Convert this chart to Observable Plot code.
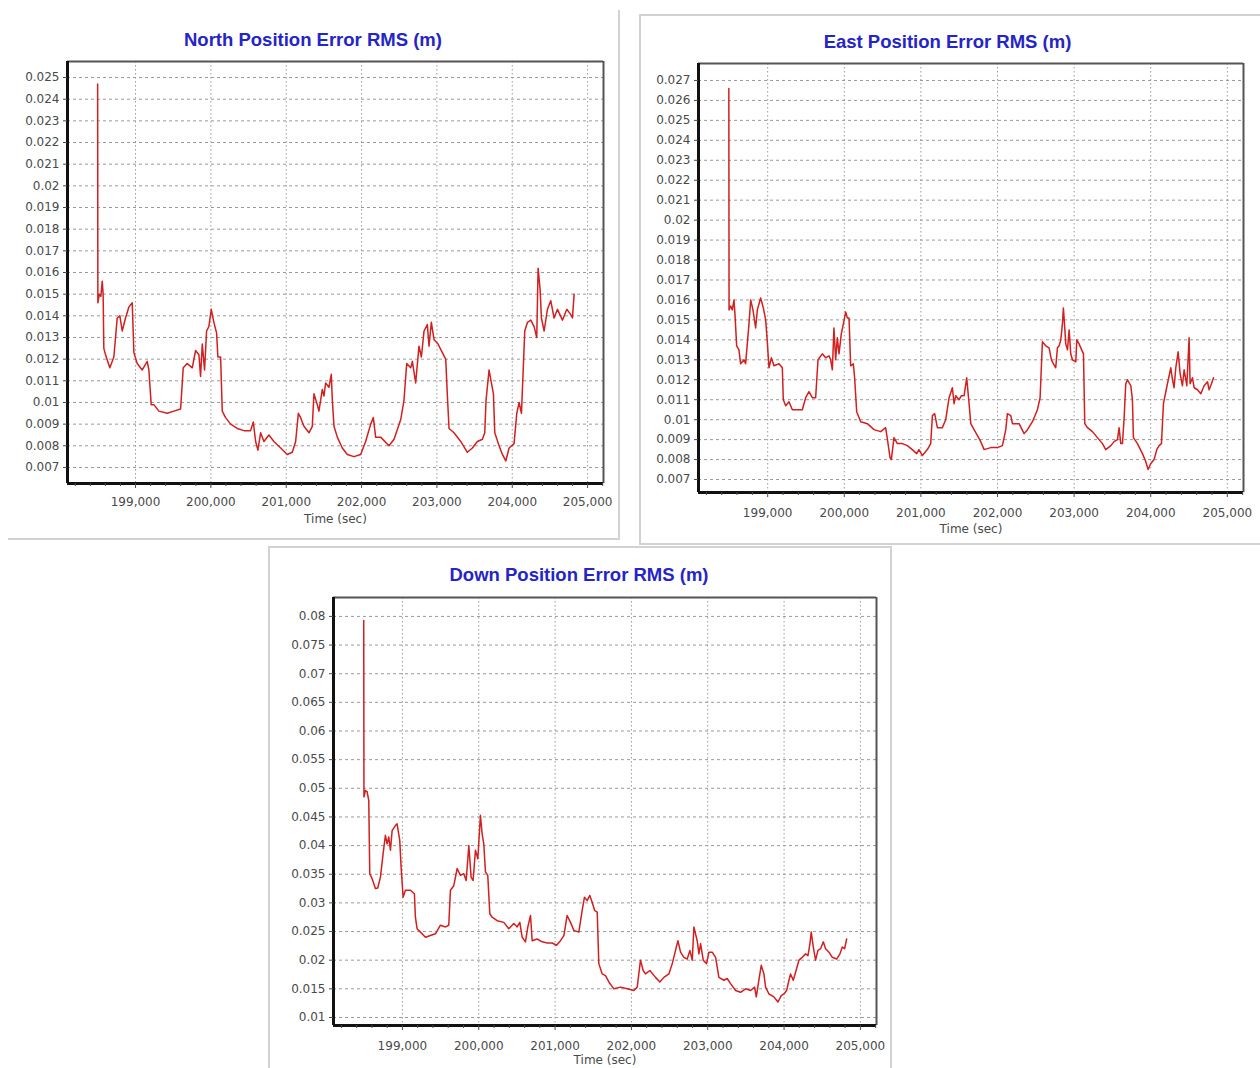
<!DOCTYPE html>
<html>
<head>
<meta charset="utf-8">
<script src="https://cdn.jsdelivr.net/npm/d3@7"></script>
<script src="https://cdn.jsdelivr.net/npm/@observablehq/plot@0.6"></script>
<style>
  html, body { margin: 0; padding: 0; background: #fff; }
  body { width: 1260px; height: 1068px; position: relative; overflow: hidden; font-family: "DejaVu Sans", sans-serif; }
  .box { position: absolute; box-sizing: border-box; border: 0 solid #d2d2d2; }
  .title { position: absolute; text-align: center; font: bold 18.5px "Liberation Sans", Arial, sans-serif; color: #2424c8; line-height: 22px; white-space: nowrap; }
  .chart { position: absolute; }
</style>
</head>
<body>
<script>
// ---- shared axis values ----
const xTicks = [199000, 200000, 201000, 202000, 203000, 204000, 205000];
const xDomain = [198097, 205211];
const xLabel = "Time (sec)";

// ---- titles ----
const northTitle = "North Position Error RMS (m)";
const eastTitle = "East Position Error RMS (m)";
const downTitle = "Down Position Error RMS (m)";

// ---- y ticks ----
const northYTicks = [0.007, 0.008, 0.009, 0.01, 0.011, 0.012, 0.013, 0.014, 0.015, 0.016, 0.017, 0.018, 0.019, 0.02, 0.021, 0.022, 0.023, 0.024, 0.025];
const eastYTicks = [0.007, 0.008, 0.009, 0.01, 0.011, 0.012, 0.013, 0.014, 0.015, 0.016, 0.017, 0.018, 0.019, 0.02, 0.021, 0.022, 0.023, 0.024, 0.025, 0.026, 0.027];
const downYTicks = [0.01, 0.015, 0.02, 0.025, 0.03, 0.035, 0.04, 0.045, 0.05, 0.055, 0.06, 0.065, 0.07, 0.075, 0.08];

// ---- series: [time (sec), RMS (m)] ----
const northSeries = [
  [198497,0.0247],[198500,0.0146],[198520,0.0150],[198540,0.0149],[198558,0.0156],[198570,0.0150],[198579,0.0125],[198602,0.0122],
  [198630,0.0119],[198659,0.0116],[198712,0.0121],[198757,0.0139],[198792,0.0140],[198823,0.0133],[198867,0.0139],[198911,0.0144],
  [198956,0.0146],[198978,0.0123],[199022,0.0118],[199089,0.0115],[199155,0.0119],[199177,0.0115],[199208,0.0099],[199243,0.0099],
  [199310,0.0096],[199421,0.0095],[199509,0.0096],[199598,0.0097],[199633,0.0116],[199686,0.0118],[199753,0.0116],[199797,0.0124],
  [199841,0.0122],[199863,0.0112],[199886,0.0127],[199916,0.0115],[199943,0.0133],[199973,0.0135],[200005,0.0143],[200040,0.0137],
  [200076,0.0132],[200093,0.0121],[200129,0.0121],[200151,0.0096],[200195,0.0093],[200262,0.0090],[200350,0.0088],[200439,0.0087],
  [200527,0.0087],[200563,0.0091],[200594,0.0082],[200624,0.0078],[200660,0.0086],[200704,0.0082],[200770,0.0085],[200837,0.0082],
  [200926,0.0079],[201014,0.0076],[201081,0.0077],[201125,0.0082],[201161,0.0095],[201191,0.0093],[201235,0.0089],[201302,0.0086],
  [201346,0.0089],[201368,0.0104],[201412,0.0099],[201434,0.0096],[201479,0.0106],[201501,0.0103],[201523,0.0109],[201567,0.0107],
  [201598,0.0113],[201612,0.0101],[201634,0.0089],[201678,0.0084],[201744,0.0079],[201811,0.0076],[201899,0.0075],[201988,0.0076],
  [202054,0.0082],[202121,0.0090],[202156,0.0093],[202187,0.0084],[202253,0.0084],[202364,0.0080],[202431,0.0083],[202519,0.0092],
  [202563,0.0101],[202599,0.0118],[202652,0.0116],[202674,0.0119],[202718,0.0109],[202762,0.0126],[202794,0.0121],[202829,0.0133],
  [202873,0.0136],[202895,0.0126],[202926,0.0137],[202962,0.0129],[203015,0.0127],[203072,0.0123],[203117,0.0120],[203139,0.0103],
  [203161,0.0088],[203227,0.0086],[203316,0.0082],[203404,0.0077],[203471,0.0079],[203537,0.0082],[203604,0.0083],[203635,0.0086],
  [203652,0.0101],[203692,0.0115],[203723,0.0109],[203750,0.0104],[203768,0.0086],[203825,0.0080],[203869,0.0076],[203914,0.0073],
  [203958,0.0079],[204024,0.0081],[204060,0.0095],[204091,0.0100],[204122,0.0095],[204166,0.0133],[204202,0.0137],[204246,0.0138],
  [204290,0.0135],[204325,0.0130],[204343,0.0162],[204370,0.0152],[204387,0.0139],[204423,0.0133],[204467,0.0143],[204511,0.0147],
  [204555,0.0139],[204600,0.0143],[204666,0.0138],[204724,0.0143],[204768,0.0141],[204799,0.0139],[204821,0.0150]
];

const eastSeries = [
  [198493,0.0266],[198496,0.0155],[198517,0.0157],[198538,0.0155],[198560,0.0160],[198573,0.0153],[198595,0.0137],[198625,0.0135],
  [198647,0.0128],[198691,0.0130],[198712,0.0128],[198734,0.0138],[198756,0.0148],[198778,0.0160],[198808,0.0155],[198843,0.0146],
  [198865,0.0155],[198908,0.0161],[198943,0.0156],[198974,0.0150],[198995,0.0139],[199017,0.0126],[199048,0.0131],[199082,0.0127],
  [199148,0.0128],[199191,0.0126],[199204,0.0110],[199235,0.0107],[199278,0.0109],[199322,0.0105],[199387,0.0105],[199452,0.0105],
  [199496,0.0111],[199539,0.0114],[199583,0.0111],[199626,0.0111],[199657,0.0130],[199713,0.0133],[199757,0.0131],[199800,0.0132],
  [199822,0.0130],[199844,0.0125],[199865,0.0146],[199887,0.0130],[199909,0.0141],[199931,0.0133],[199961,0.0143],[199988,0.0148],
  [200018,0.0154],[200040,0.0151],[200062,0.0151],[200083,0.0127],[200118,0.0128],[200135,0.0121],[200162,0.0104],[200214,0.0099],
  [200301,0.0098],[200388,0.0095],[200475,0.0094],[200540,0.0096],[200571,0.0088],[200597,0.0081],[200614,0.0080],[200649,0.0091],
  [200692,0.0088],[200758,0.0088],[200823,0.0087],[200888,0.0085],[200945,0.0083],[200975,0.0085],[201019,0.0082],[201084,0.0085],
  [201128,0.0088],[201150,0.0102],[201180,0.0103],[201215,0.0096],[201280,0.0096],[201324,0.0100],[201368,0.0111],[201411,0.0116],
  [201433,0.0108],[201455,0.0112],[201498,0.0110],[201529,0.0112],[201564,0.0112],[201598,0.0121],[201629,0.0108],[201651,0.0098],
  [201694,0.0095],[201738,0.0092],[201781,0.0089],[201825,0.0085],[201912,0.0086],[201999,0.0086],[202064,0.0087],[202108,0.0095],
  [202129,0.0103],[202173,0.0102],[202195,0.0098],[202282,0.0098],[202347,0.0093],[202391,0.0095],[202456,0.0099],[202521,0.0105],
  [202556,0.0111],[202586,0.0139],[202630,0.0137],[202673,0.0136],[202704,0.0130],[202730,0.0128],[202760,0.0126],[202782,0.0136],
  [202804,0.0137],[202826,0.0140],[202847,0.0148],[202860,0.0156],[202878,0.0146],[202891,0.0138],[202913,0.0135],[202935,0.0145],
  [202956,0.0133],[202978,0.0130],[203022,0.0129],[203035,0.0140],[203065,0.0138],[203087,0.0136],[203122,0.0133],[203139,0.0098],
  [203174,0.0096],[203239,0.0094],[203304,0.0091],[203370,0.0088],[203413,0.0085],[203479,0.0087],[203522,0.0089],[203566,0.0090],
  [203587,0.0096],[203609,0.0088],[203631,0.0088],[203653,0.0101],[203674,0.0118],[203696,0.0120],[203740,0.0117],[203761,0.0110],
  [203774,0.0091],[203827,0.0088],[203892,0.0083],[203935,0.0079],[203966,0.0075],[204001,0.0078],[204044,0.0080],[204079,0.0085],
  [204109,0.0087],[204140,0.0088],[204166,0.0108],[204197,0.0114],[204218,0.0118],[204262,0.0126],[204284,0.0120],[204305,0.0116],
  [204327,0.0126],[204358,0.0134],[204384,0.0123],[204414,0.0117],[204436,0.0125],[204471,0.0117],[204501,0.0141],[204514,0.0118],
  [204545,0.0121],[204567,0.0116],[204610,0.0115],[204654,0.0113],[204697,0.0117],[204741,0.0119],[204762,0.0115],[204793,0.0118],
  [204819,0.0121]
];

const downSeries = [
  [198493,0.0793],[198496,0.0485],[198515,0.0496],[198537,0.0494],[198559,0.0479],[198572,0.0351],[198603,0.0342],[198646,0.0325],
  [198677,0.0326],[198712,0.0345],[198747,0.0386],[198777,0.0418],[198799,0.0403],[198821,0.0415],[198843,0.0392],[198865,0.0426],
  [198908,0.0435],[198930,0.0438],[198965,0.0409],[198983,0.0362],[199009,0.0310],[199039,0.0322],[199105,0.0322],[199157,0.0316],
  [199170,0.0275],[199192,0.0255],[199236,0.0249],[199301,0.0240],[199367,0.0243],[199433,0.0246],[199498,0.0261],[199564,0.0258],
  [199607,0.0261],[199629,0.0322],[199673,0.0330],[199717,0.0360],[199760,0.0348],[199804,0.0351],[199835,0.0339],[199870,0.0400],
  [199900,0.0345],[199926,0.0339],[199957,0.0392],[199988,0.0377],[200022,0.0453],[200044,0.0421],[200066,0.0403],[200088,0.0354],
  [200118,0.0348],[200145,0.0281],[200175,0.0275],[200241,0.0269],[200328,0.0266],[200394,0.0255],[200459,0.0264],[200503,0.0258],
  [200538,0.0266],[200569,0.0240],[200612,0.0232],[200643,0.0258],[200678,0.0278],[200700,0.0234],[200765,0.0237],[200831,0.0232],
  [200897,0.0230],[200962,0.0230],[201019,0.0226],[201071,0.0234],[201115,0.0243],[201158,0.0278],[201202,0.0266],[201246,0.0252],
  [201311,0.0249],[201355,0.0287],[201385,0.0310],[201420,0.0304],[201455,0.0313],[201486,0.0301],[201517,0.0287],[201552,0.0284],
  [201573,0.0194],[201617,0.0176],[201661,0.0173],[201704,0.0162],[201770,0.0150],[201857,0.0153],[201945,0.0150],[202032,0.0147],
  [202076,0.0153],[202119,0.0200],[202154,0.0182],[202185,0.0176],[202242,0.0182],[202316,0.0170],[202373,0.0162],[202425,0.0170],
  [202491,0.0176],[202535,0.0194],[202578,0.0217],[202609,0.0234],[202644,0.0214],[202688,0.0205],[202731,0.0202],[202766,0.0217],
  [202797,0.0200],[202819,0.0258],[202840,0.0246],[202862,0.0234],[202884,0.0211],[202906,0.0229],[202941,0.0200],[202985,0.0194],
  [203015,0.0214],[203059,0.0214],[203103,0.0205],[203146,0.0170],[203212,0.0165],[203255,0.0168],[203299,0.0159],[203365,0.0147],
  [203430,0.0144],[203496,0.0150],[203561,0.0147],[203614,0.0153],[203636,0.0136],[203670,0.0165],[203701,0.0191],[203736,0.0176],
  [203758,0.0153],[203802,0.0141],[203867,0.0136],[203920,0.0127],[203963,0.0138],[203998,0.0141],[204033,0.0147],[204064,0.0165],
  [204085,0.0176],[204120,0.0165],[204151,0.0179],[204195,0.0200],[204238,0.0205],[204282,0.0211],[204313,0.0208],[204339,0.0229],
  [204356,0.0249],[204383,0.0223],[204413,0.0200],[204444,0.0217],[204479,0.0220],[204514,0.0232],[204544,0.0220],[204588,0.0214],
  [204632,0.0205],[204688,0.0202],[204732,0.0211],[204763,0.0223],[204793,0.0220],[204820,0.0237]
];

// ---- layout helpers ----
function addBox(left, top, width, height, borders) {
  const d = document.createElement("div");
  d.className = "box";
  Object.assign(d.style, { left: left + "px", top: top + "px", width: width + "px", height: height + "px" });
  for (const b of borders) d.style["border" + b + "Width"] = "2px";
  document.body.appendChild(d);
}
function addTitle(text, left, width, top) {
  const d = document.createElement("div");
  d.className = "title";
  d.textContent = text;
  Object.assign(d.style, { left: left + "px", width: width + "px", top: top + "px" });
  document.body.appendChild(d);
}

const yFmt = d => String(+d.toFixed(4));
const xFmt = d3.format(",");
const minorX = d3.range(198200, 205201, 200).filter(v => !xTicks.includes(v));

function addChart({series, yTicks, yDomain, left, top, width, height, m, xTextOff, labelOff}) {
  const chart = Plot.plot({
    width, height,
    marginLeft: m[0], marginRight: m[1], marginTop: m[2], marginBottom: m[3],
    x: { type: "linear", domain: xDomain },
    y: { type: "linear", domain: yDomain },
    style: { fontFamily: "DejaVu Sans, sans-serif", fontSize: "12px", color: "#4a4a4a", background: "transparent", overflow: "visible" },
    marks: [
      Plot.gridY(yTicks, { stroke: "#9a9a9a", strokeOpacity: 1, strokeWidth: 1, strokeDasharray: "3,3" }),
      Plot.gridX(xTicks, { stroke: "#9a9a9a", strokeOpacity: 1, strokeWidth: 1, strokeDasharray: "1.5,2.5" }),
      Plot.line(series, { x: d => d[0], y: d => d[1], stroke: "#d21f1f", strokeWidth: 1.5 }),
      Plot.ruleY([yDomain[1]], { stroke: "#555", strokeWidth: 2 }),
      Plot.ruleX([xDomain[1]], { stroke: "#555", strokeWidth: 2 }),
      Plot.ruleX([xDomain[0]], { stroke: "#111", strokeWidth: 3 }),
      Plot.ruleY([yDomain[0]], { stroke: "#111", strokeWidth: 3 }),
      Plot.axisY(yTicks, { tickSize: 4, tickPadding: 4, tickFormat: yFmt, label: null, fontSize: 12 }),
      Plot.axisX(xTicks, { tickSize: 5, tickPadding: xTextOff - 5, tickFormat: xFmt, label: null, fontSize: 12 }),
      Plot.axisX(minorX, { tickSize: 3, tickFormat: () => "", label: null }),
      Plot.text([xLabel], { text: d => d, frameAnchor: "bottom", dy: labelOff, fontSize: 12, fill: "#4a4a4a" })
    ]
  });
  chart.classList.add("chart");
  chart.style.left = left + "px";
  chart.style.top = top + "px";
  document.body.appendChild(chart);
}

// North panel
addBox(8, 10, 612, 530, ["Right", "Bottom"]);
addTitle(northTitle, 8, 610, 29);
addChart({ series: northSeries, yTicks: northYTicks, yDomain: [0.00626, 0.02574],
  left: 8, top: 55, width: 610, height: 481, m: [59, 15, 6, 53], xTextOff: 14.4, labelOff: 39 });

// East panel
addBox(639, 14, 640, 531, ["Top", "Left", "Bottom"]);
addTitle(eastTitle, 639, 617, 31);
addChart({ series: eastSeries, yTicks: eastYTicks, yDomain: [0.00635, 0.02785],
  left: 639, top: 55, width: 617, height: 487, m: [59, 13, 8, 50], xTextOff: 15.7, labelOff: 40 });

// Down panel
addBox(268, 546, 624, 540, ["Top", "Left", "Right"]);
addTitle(downTitle, 268, 622, 564);
addChart({ series: downSeries, yTicks: downYTicks, yDomain: [0.0086, 0.0833],
  left: 268, top: 590, width: 622, height: 478, m: [65, 14, 7, 43], xTextOff: 15.7, labelOff: 38 });
</script>
</body>
</html>
